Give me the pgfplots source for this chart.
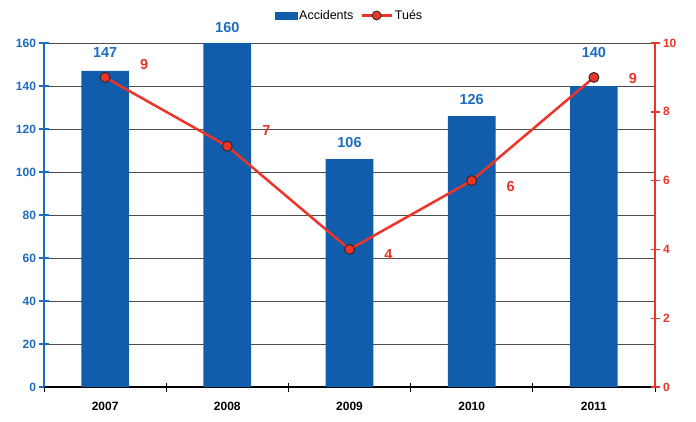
\documentclass[border=0pt]{standalone}
\usepackage{pgfplots}
\pgfplotsset{compat=1.18}
\usepackage{fontspec}
\setmainfont{Liberation Sans}

\definecolor{barblue}{RGB}{18,92,172}
\definecolor{tickblue}{RGB}{28,108,192}
\definecolor{linered}{RGB}{236,52,40}

\pgfplotsset{/pgf/number format/assume math mode=true}

\begin{document}
\begin{tikzpicture}
\path[use as bounding box] (-44pt,-34pt) rectangle (652pt,387pt);

% accidents (left axis)
\begin{axis}[
  scale only axis, width=611pt, height=344pt,
  xmin=-0.5, xmax=4.5, ymin=0, ymax=160,
  axis x line*=bottom, axis y line*=left,
  x axis line style={-, black, line width=1.6pt},
  y axis line style={-, tickblue, line width=1.6pt},
  xtick={0,1,2,3,4},
  xticklabels={2007,2008,2009,2010,2011},
  major x tick style={draw=none},
  minor xtick={-0.5,0.5,1.5,2.5,3.5,4.5},
  minor x tick style={black, line width=1pt},
  minor tick length=9pt,
  ytick={0,20,...,160},
  ytick style={tickblue, line width=1.4pt},
  major tick length=9pt,
  tick align=center,
  ymajorgrids,
  grid style={black!70, line width=1pt},
  yticklabel style={tickblue, font=\bfseries\fontsize{12}{12}\selectfont},
  xticklabel style={black, font=\bfseries\fontsize{12}{12}\selectfont, yshift=-7pt},
  clip=false,
]
\addplot[ybar, bar width=0.39, fill=barblue, draw=none,
  visualization depends on={\thisrow{dy} \as \dy},
  nodes near coords,
  every node near coord/.append style={tickblue, font=\bfseries\fontsize{14.5}{14.5}\selectfont, anchor=south, yshift=\dy pt}]
  table {
x y dy
0 147 10
1 160 7
2 106 8
3 126 8
4 140 25
};
\end{axis}

% tues (right axis)
\begin{axis}[
  scale only axis, width=611pt, height=344pt,
  xmin=-0.5, xmax=4.5, ymin=0, ymax=10,
  axis x line=none, axis y line*=right,
  y axis line style={-, linered, line width=1.6pt},
  ytick={0,2,...,10},
  ytick style={linered, line width=1.4pt},
  major tick length=9pt,
  tick align=center,
  yticklabel style={linered, font=\bfseries\fontsize{12}{12}\selectfont},
  clip=false,
  legend style={at={(0.5,1.08)}, anchor=center, draw=none, fill=none,
    legend columns=2, font=\fontsize{12.5}{12.5}\selectfont,
    /tikz/every even column/.append style={column sep=5pt}},
]
\addlegendimage{legend image code/.code={\fill[barblue] (0pt,-3.5pt) rectangle (22pt,3.5pt);}}
\addlegendentry{Accidents}
\addplot[linered, line width=2.5pt, mark=*, mark size=5pt,
  mark options={fill=linered, draw=black!85, line width=0.9pt},
  legend image code/.code={\draw[linered, line width=2.5pt] (0pt,0pt) -- (30pt,0pt);
    \draw[fill=linered, draw=black!85, line width=0.8pt] (15pt,0pt) circle (4.5pt);},
  visualization depends on={\thisrow{dy} \as \dy},
  nodes near coords,
  every node near coord/.append style={linered, font=\bfseries\fontsize{14.5}{14.5}\selectfont, anchor=center, xshift=39pt, yshift=\dy pt}]
  table {
x y dy
0 9 13
1 7 16
2 4 -5
3 6 -6
4 9 -1
};
\addlegendentry{Tués}
\end{axis}
\end{tikzpicture}
\end{document}
